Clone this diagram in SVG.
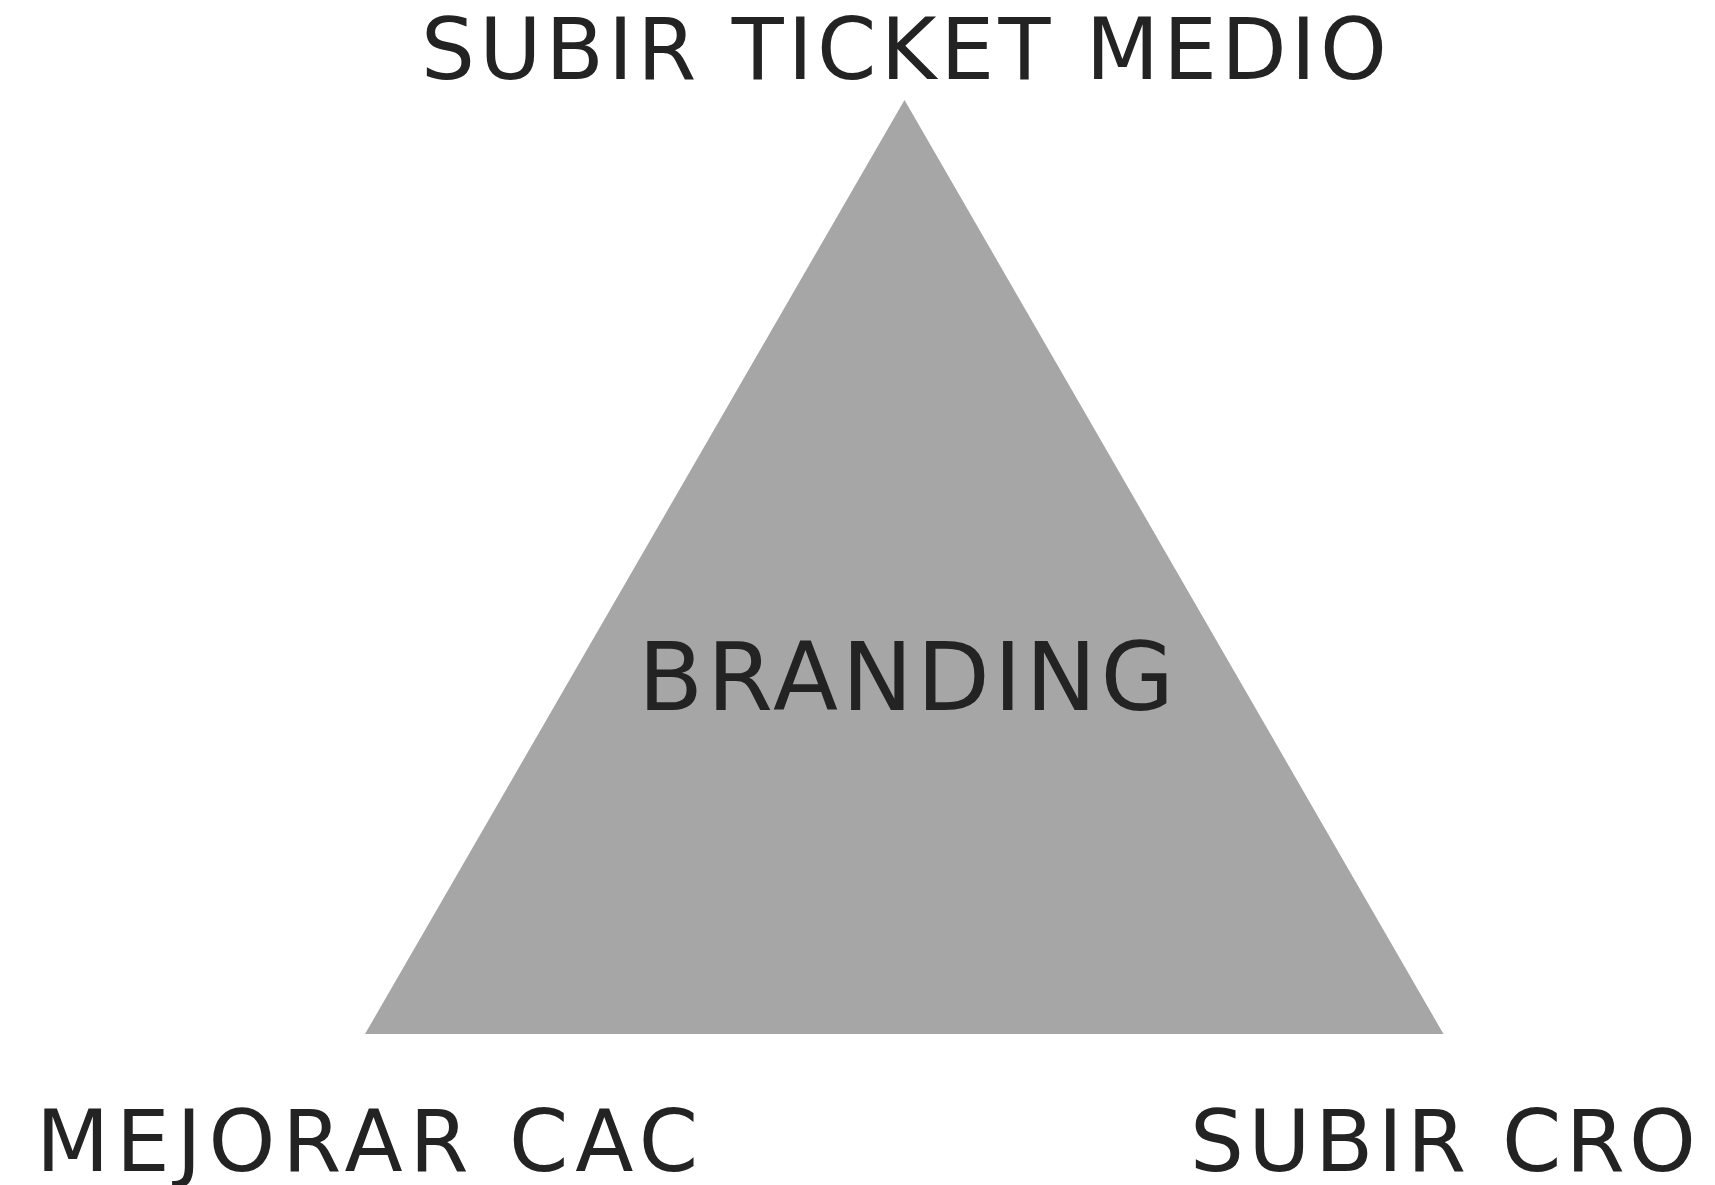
<svg xmlns="http://www.w3.org/2000/svg" width="1715" height="1185" viewBox="0 0 1715 1185">
<style>
.t{font-family:"DejaVu Sans","Liberation Sans",sans-serif;fill:#232323;}
</style>
<rect width="1715" height="1185" fill="#ffffff"/>
<g id="triangle">
<polygon points="904.5,100 1443.5,1034 365,1034" fill="#a6a6a6"/>
<text class="t" x="638" y="710" font-size="95" textLength="536" lengthAdjust="spacing">BRANDING</text>
</g>
<g id="connectors"></g>
<g id="top"><text class="t" x="421" y="79" font-size="85" textLength="966" lengthAdjust="spacing">SUBIR TICKET MEDIO</text></g>
<g id="left"><text class="t" x="36" y="1171" font-size="85" textLength="662" lengthAdjust="spacing">MEJORAR CAC</text></g>
<g id="right"><text class="t" x="1190" y="1171" font-size="85" textLength="506" lengthAdjust="spacing">SUBIR CRO</text></g>
</svg>
